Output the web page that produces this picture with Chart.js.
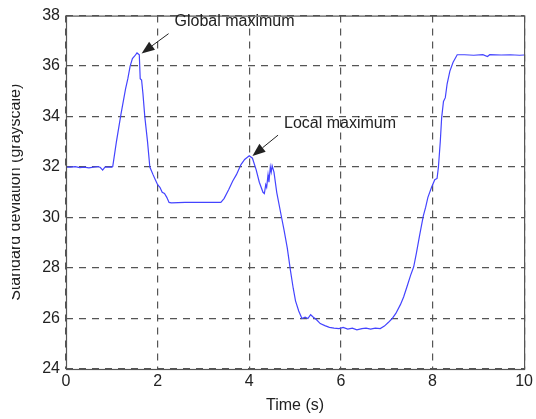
<!DOCTYPE html>
<html>
<head>
<meta charset="utf-8">
<script src="https://cdn.jsdelivr.net/npm/chart.js@4.4.0/dist/chart.umd.min.js"></script>
<style>
html, body { margin: 0; padding: 0; background: #fff; }
#wrap { width: 536px; height: 419px; }
</style>
</head>
<body>
<div id="wrap"><canvas id="chart"></canvas></div>
<script>
// time (s) and standard deviation (grayscale)
const timeS = [
  0, 0.1, 0.2, 0.3, 0.4, 0.5, 0.6, 0.7, 0.75, 0.8, 0.85, 0.9, 1.0, 1.02,
  1.1, 1.2, 1.3, 1.35, 1.4, 1.45, 1.5, 1.55, 1.6, 1.62, 1.65, 1.68, 1.72, 1.78, 1.83,
  1.9, 1.95, 2.0, 2.05, 2.1, 2.15, 2.2, 2.25, 2.3, 2.6, 3.0, 3.38,
  3.45, 3.55, 3.64, 3.72, 3.82, 3.9, 4.0, 4.07, 4.15, 4.22, 4.3, 4.33, 4.36, 4.38, 4.41, 4.43, 4.46, 4.48, 4.5, 4.54,
  4.6, 4.69, 4.76, 4.83, 4.9, 4.96, 5.01, 5.08, 5.15, 5.22, 5.28, 5.34, 5.4, 5.47, 5.55, 5.65, 5.75, 5.85, 5.96,
  6.05, 6.15, 6.25, 6.35, 6.46, 6.55, 6.65, 6.75, 6.86, 6.95, 7.04, 7.12, 7.2, 7.3, 7.37, 7.45, 7.52, 7.59,
  7.65, 7.72, 7.8, 7.85, 7.9, 7.98, 8.05, 8.1, 8.13, 8.17, 8.2, 8.24, 8.28, 8.32, 8.38, 8.45, 8.54,
  8.7, 8.9, 9.1, 9.2, 9.25, 9.5, 9.7, 9.9, 10
];
const stdDev = [
  32, 32, 32.02, 31.98, 32, 31.97, 32, 32.02, 31.98, 31.88, 32, 32, 32, 32.02,
  33.0, 34.1, 35.1, 35.5, 36.0, 36.3, 36.4, 36.52, 36.45, 35.5, 35.45, 34.9, 34.0, 33.0, 32.0,
  31.7, 31.5, 31.3, 31.2, 31.0, 30.95, 30.8, 30.6, 30.58, 30.6, 30.6, 30.6,
  30.75, 31.1, 31.45, 31.7, 32.1, 32.3, 32.45, 32.35, 31.9, 31.4, 31.0, 30.95, 31.3, 31.2, 31.7, 31.4, 32.0, 31.8, 32.05, 31.8,
  31.0, 30.15, 29.5, 28.8, 27.9, 27.2, 26.7, 26.3, 26.0, 26.05, 26.0, 26.15, 26.05, 25.95, 25.8, 25.72, 25.65, 25.62, 25.6,
  25.65, 25.58, 25.62, 25.55, 25.6, 25.62, 25.58, 25.62, 25.6, 25.7, 25.85, 26.0, 26.2, 26.55, 26.85, 27.3, 27.7, 28.05,
  28.6, 29.3, 30.07, 30.4, 30.8, 31.2, 31.5, 31.55, 32.0, 33.0, 33.95, 34.6, 34.75, 35.3, 35.8, 36.15, 36.45,
  36.45, 36.43, 36.45, 36.38, 36.45, 36.44, 36.45, 36.43, 36.44
];

const xTicks = [0, 2, 4, 6, 8, 10];
const yTicks = [24, 26, 28, 30, 32, 34, 36, 38];

const annoLabels = ['Global maximum', 'Local maximum'];
const annoTipX = [1.65, 4.07];     // where the arrows point (data units)
const annoTipY = [36.5, 32.44];
const annoTextX = [2.37, 4.76];    // left of label (data units)
const annoTextY = [37.76, 33.74];

const FONT = '"Liberation Sans", Arial, Helvetica, sans-serif';
const TXT = '#222';

const framePlugin = {
  id: 'frame',
  afterDraw(chart) {
    const { ctx, chartArea: a, scales } = chart;
    ctx.save();
    ctx.strokeStyle = '#555';
    ctx.lineWidth = 1.2;
    ctx.strokeRect(a.left + 0.5, a.top + 0.5, a.right - a.left, a.bottom - a.top);

    // annotations
    ctx.font = '16px ' + FONT;
    ctx.fillStyle = TXT;
    ctx.strokeStyle = TXT;
    ctx.textBaseline = 'middle';
    ctx.textAlign = 'left';
    for (let i = 0; i < annoLabels.length; i++) {
      const tx = scales.x.getPixelForValue(annoTextX[i]);
      const ty = scales.y.getPixelForValue(annoTextY[i]);
      ctx.fillText(annoLabels[i], tx, ty);
      const sx = tx - 6, sy = ty + 12;
      const ex = scales.x.getPixelForValue(annoTipX[i]);
      const ey = scales.y.getPixelForValue(annoTipY[i]);
      const ang = Math.atan2(ey - sy, ex - sx);
      const hl = 13, hw = 5;
      const bx = ex - hl * Math.cos(ang), by = ey - hl * Math.sin(ang);
      ctx.lineWidth = 1;
      ctx.beginPath();
      ctx.moveTo(sx, sy);
      ctx.lineTo(bx, by);
      ctx.stroke();
      ctx.beginPath();
      ctx.moveTo(ex, ey);
      ctx.lineTo(bx + hw * Math.sin(ang), by - hw * Math.cos(ang));
      ctx.lineTo(bx - hw * Math.sin(ang), by + hw * Math.cos(ang));
      ctx.closePath();
      ctx.fill();
    }

    // y axis title, partly cut off at the left edge like the original
    ctx.beginPath();
    ctx.rect(12, 0, 40, chart.height);
    ctx.clip();
    ctx.translate(20, (a.top + a.bottom) / 2);
    ctx.rotate(-Math.PI / 2);
    ctx.textAlign = 'center';
    ctx.textBaseline = 'alphabetic';
    ctx.fillText('Standard deviation (grayscale)', 0, 0);
    ctx.restore();
  }
};

new Chart(document.getElementById('chart'), {
  type: 'scatter',
  data: {
    datasets: [{
      data: timeS.map((t, i) => ({ x: t, y: stdDev[i] })),
      showLine: true,
      borderColor: '#4444ff',
      borderWidth: 1.2,
      pointRadius: 0,
      tension: 0
    }]
  },
  options: {
    responsive: true,
    maintainAspectRatio: false,
    animation: false,
    layout: { padding: { top: 14, right: 10, left: 0, bottom: 0 } },
    plugins: { legend: { display: false }, tooltip: { enabled: false } },
    scales: {
      x: {
        type: 'linear',
        min: 0, max: 10,
        afterBuildTicks: s => { s.ticks = xTicks.map(v => ({ value: v })); },
        afterFit: s => { s.height = 50; },
        ticks: { color: TXT, font: { family: FONT, size: 16 }, padding: 3 },
        grid: { color: '#555', lineWidth: 1.2, drawTicks: false },
        border: { display: false, dash: [7, 6] },
        title: { display: true, text: 'Time (s)', color: TXT, font: { family: FONT, size: 16 }, padding: { top: 2 } }
      },
      y: {
        min: 24, max: 38,
        afterBuildTicks: s => { s.ticks = yTicks.map(v => ({ value: v })); },
        afterFit: s => { s.width = 66; },
        ticks: { color: TXT, font: { family: FONT, size: 16 }, padding: 6 },
        grid: { color: '#555', lineWidth: 1.2, drawTicks: false },
        border: { display: false, dash: [7, 6] }
      }
    }
  },
  plugins: [framePlugin]
});
</script>
</body>
</html>
